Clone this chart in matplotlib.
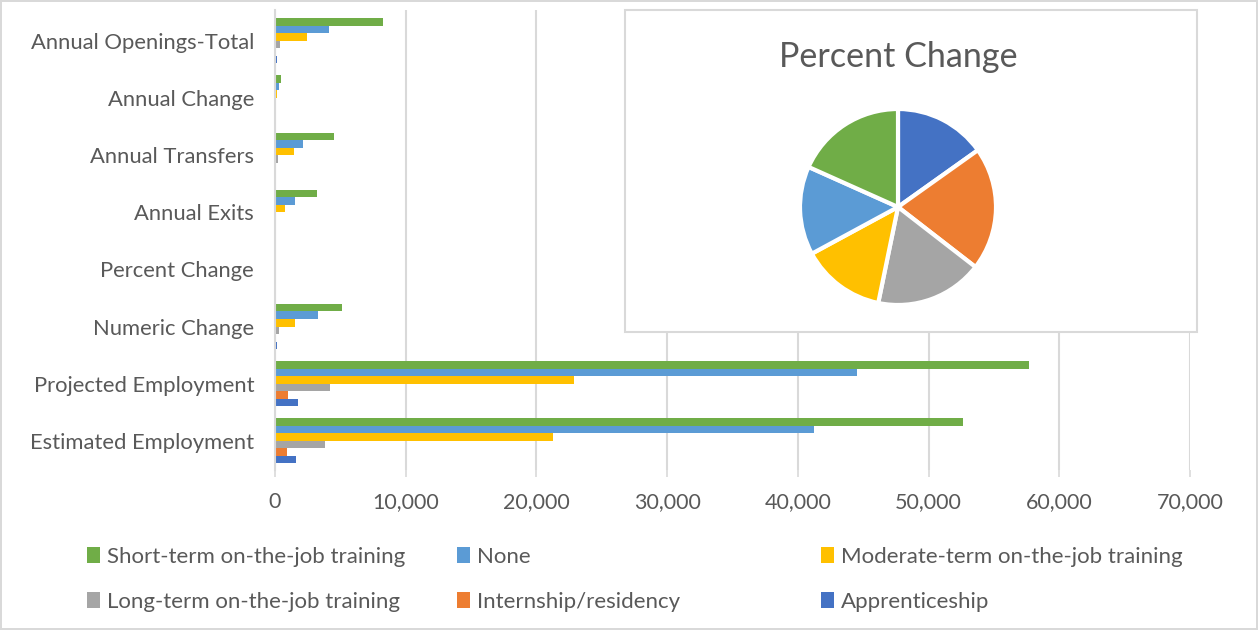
import numpy as np
import matplotlib.pyplot as plt
from matplotlib.patches import Patch, Rectangle
from matplotlib.ticker import FuncFormatter

plt.rcParams.update({
    "font.family": ["Lato", "DejaVu Sans"],
    "text.color": "#595959",
    "axes.labelcolor": "#595959",
    "xtick.color": "#595959",
    "ytick.color": "#595959",
})

# ------------------------------------------------------------
# data
# ------------------------------------------------------------
categories = [
    "Estimated Employment", "Projected Employment", "Numeric Change",
    "Percent Change", "Annual Exits", "Annual Transfers",
    "Annual Change", "Annual Openings-Total",
]

series_names = [
    "Short-term on-the-job training", "None",
    "Moderate-term on-the-job training", "Long-term on-the-job training",
    "Internship/residency", "Apprenticeship",
]

short_term = [52600, 57700, 5150, 9.9, 3230, 4540, 460, 8230]
none_edu = [41250, 44500, 3300, 7.9, 1540, 2150, 310, 4150]
moderate_term = [21250, 22840, 1540, 7.5, 770, 1460, 150, 2460]
long_term = [3850, 4240, 310, 9.6, 80, 230, 50, 385]
internship = [900, 970, 70, 11.0, 15, 15, 20, 30]
apprenticeship = [1600, 1750, 150, 8.2, 50, 50, 40, 150]

colors = ["#70AD47", "#5B9BD5", "#FFC000", "#A5A5A5", "#ED7D31", "#4472C4"]

all_series = [short_term, none_edu, moderate_term, long_term,
              internship, apprenticeship]

# percent change goes into the pie, apprenticeship first (clockwise from top)
pct_idx = categories.index("Percent Change")
pie_vals = [s[pct_idx] for s in all_series][::-1]
pie_cols = colors[::-1]

# ------------------------------------------------------------
# figure
# ------------------------------------------------------------
fig = plt.figure(figsize=(12.58, 6.30), dpi=100)
fig.patch.set_edgecolor("#D9D9D9")
fig.patch.set_linewidth(1.5)

ax = fig.add_axes([275 / 1258, 160 / 630, 915 / 1258, 460 / 630])

y = np.arange(len(categories))
bar_h = 0.132
n = len(all_series)
for i, (vals, col, name) in enumerate(zip(all_series, colors, series_names)):
    offset = ((n - 1) / 2 - i) * bar_h
    ax.barh(y + offset, vals, height=bar_h, color=col, label=name)

ax.set_xlim(0, 70000)
ax.set_ylim(-0.51, 7.54)
ax.set_xticks(np.arange(0, 70001, 10000))
ax.xaxis.set_major_formatter(FuncFormatter(lambda v, p: f"{int(v):,}"))
ax.set_yticks(y)
ax.set_yticklabels(categories)
ax.tick_params(axis="y", length=0, pad=15, labelsize=15.8)
ax.tick_params(axis="x", length=5, width=1.2, color="#D9D9D9",
               pad=11, labelsize=15.5)
ax.grid(axis="x", color="#D9D9D9", linewidth=1.5)
ax.set_axisbelow(True)
for side in ["top", "right", "bottom"]:
    ax.spines[side].set_visible(False)
ax.spines["left"].set_color("#D9D9D9")
ax.spines["left"].set_linewidth(1.5)

# ------------------------------------------------------------
# pie inset
# ------------------------------------------------------------
box = Rectangle((625 / 1258, 1 - 332 / 630), 572 / 1258, 322 / 630,
                transform=fig.transFigure, facecolor="white",
                edgecolor="#D9D9D9", linewidth=1.5, zorder=5)
fig.add_artist(box)

fig.text(898 / 1258, 1 - 57 / 630, "Percent Change", fontsize=24.6,
         ha="center", va="center", zorder=6)

r = 98
pax = fig.add_axes([(898 - r) / 1258, (630 - 207 - r) / 630,
                    2 * r / 1258, 2 * r / 630], zorder=7)
wedges, _ = pax.pie(pie_vals, colors=pie_cols, startangle=90,
                    counterclock=False,
                    wedgeprops=dict(edgecolor="white", linewidth=3))
for w in wedges:
    w.set_clip_on(False)
pax.set_xlim(-1, 1)
pax.set_ylim(-1, 1)
pax.set_aspect("equal")

# ------------------------------------------------------------
# legend: three columns of two entries
# ------------------------------------------------------------
handles = [Patch(facecolor=c, edgecolor="none") for c in colors]
col_x = [87, 457, 821]
for k in range(3):
    idx = [k, k + 3]
    fig.legend([handles[j] for j in idx], [series_names[j] for j in idx],
               loc="upper left", bbox_to_anchor=(col_x[k] / 1258, 1 - 547 / 630),
               frameon=False, fontsize=16, handlelength=0.6,
               handleheight=0.75, handletextpad=0.3, labelspacing=1.12,
               borderaxespad=0, borderpad=0)

fig.savefig("out.png", dpi=100)
